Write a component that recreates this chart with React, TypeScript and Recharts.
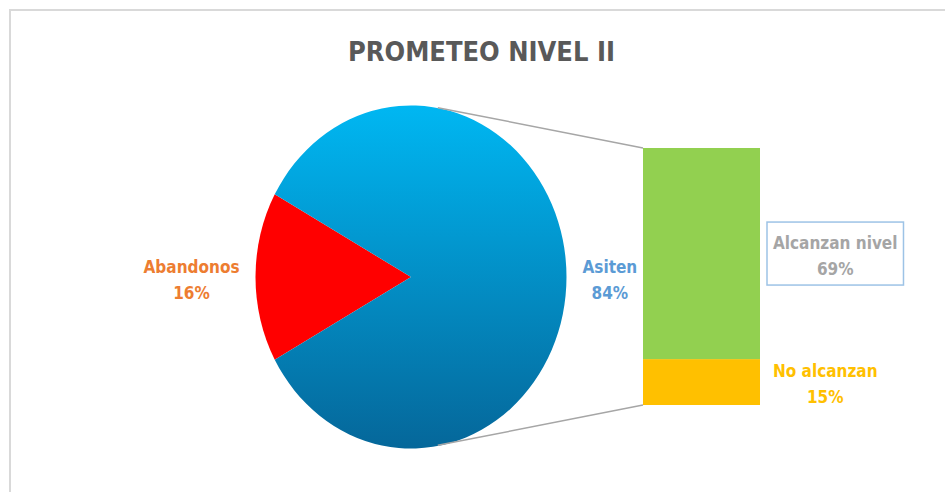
import React from 'react'
import { PieChart, Pie, Cell, BarChart, Bar, XAxis, YAxis, LabelList } from 'recharts'

// pie: first level
const PIE_NAMES = ['Abandonos', 'Asiten']
const PIE_VALUES = [16, 84]
// bar: breakdown of "Asiten"
const BAR_CATEGORY = ['Asiten']
const BAR_NAMES = ['No alcanzan', 'Alcanzan nivel']
const BAR_VALUES = [15, 69]

const TITLE = 'PROMETEO NIVEL II'

const FONT = "'DejaVu Sans Condensed', 'DejaVu Sans', sans-serif"
const LABEL_SIZE = 17
const PIE_LABEL_COLORS = ['#ED7D31', '#5B9BD5']
const BAR_COLORS = ['#FFC000', '#92D050']
const BAR_LABEL_COLORS = ['#FFC000', '#A5A5A5']

// pie geometry (page px); Excel draws it slightly taller than wide
const PIE_CX = 410.5
const PIE_CY = 276.5
const PIE_R = 155.5
const PIE_SY = 1.103
const PIE_BOX_W = 640
const PIE_BOX_H = 400

// bar chart placement
const BAR_LEFT = 430
const BAR_TOP = 100
const BAR_W = 515
const BAR_H = 385
const BAR_MARGIN = { top: 48, right: 185, bottom: 80, left: 213 }

const pieData = PIE_NAMES.map((name, i) => ({ name, value: PIE_VALUES[i] }))
const pieTotal = PIE_VALUES.reduce((a, b) => a + b, 0)
const startAngle = 180 - (PIE_VALUES[0] / pieTotal) * 180

const barRow: Record<string, string | number> = { name: BAR_CATEGORY[0] }
BAR_NAMES.forEach((n, i) => { barRow[n] = BAR_VALUES[i] })
const barData = [barRow]
const barTotal = BAR_VALUES.reduce((a, b) => a + b, 0)

let canvas: HTMLCanvasElement | null = null
function textWidth(s: string, size: number) {
  if (!canvas) canvas = document.createElement('canvas')
  const ctx = canvas.getContext('2d')
  if (!ctx) return s.length * size * 0.5
  ctx.font = `bold ${size}px ${FONT}`
  return ctx.measureText(s).width
}

function PieLabel(props: any) {
  const { cx, cy, midAngle, outerRadius, index, name, value } = props
  const right = Math.cos((-midAngle * Math.PI) / 180) >= 0
  const pct = `${Math.round((value / pieTotal) * 100)}%`
  const w = Math.max(textWidth(name, LABEL_SIZE), textWidth(pct, LABEL_SIZE))
  const gap = 16
  const x = right ? cx + outerRadius + gap + w / 2 : cx - outerRadius - gap - w / 2
  return (
    <g transform={`translate(${x},${cy}) scale(1,${1 / PIE_SY})`}>
      <text textAnchor="middle" fontFamily={FONT} fontWeight="bold" fontSize={LABEL_SIZE} fill={PIE_LABEL_COLORS[index]}>
        <tspan x={0} y={-4.5}>{name}</tspan>
        <tspan x={0} y={21.5}>{pct}</tspan>
      </text>
    </g>
  )
}

// tangent point on the pie ellipse seen from (px, py), in bar chart coords
function tangent(px: number, py: number, upper: boolean) {
  const cx = PIE_CX - BAR_LEFT
  const cy = PIE_CY - BAR_TOP
  const ry = PIE_R * PIE_SY
  const u = (px - cx) / PIE_R
  const v = (py - cy) / ry
  const d = Math.hypot(u, v)
  const phi = Math.atan2(v, u)
  const a = Math.acos(1 / d)
  const t = upper ? phi - a : phi + a
  return { x: cx + PIE_R * Math.cos(t), y: cy + ry * Math.sin(t) }
}

function BarWithConnector(props: any, upper: boolean) {
  const { x, y, width, height, fill } = props
  const cy = upper ? y : y + height
  const t = tangent(x, cy, upper)
  return (
    <g>
      <line x1={t.x} y1={t.y} x2={x} y2={cy} stroke="#A6A6A6" strokeWidth={1.5} />
      <rect x={x} y={y} width={width} height={height} fill={fill} />
    </g>
  )
}

function BarLabel(props: any, idx: number) {
  const { x, y, width, height, value } = props
  const name = BAR_NAMES[idx]
  const pct = `${Math.round((value / pieTotal) * 100)}%`
  const w = Math.max(textWidth(name, LABEL_SIZE), textWidth(pct, LABEL_SIZE))
  const left = x + width + 13
  const mid = y + height / 2
  const boxed = idx === 1
  return (
    <g>
      {boxed && (
        <rect x={x + width + 7} y={mid - 31.5} width={w + 12} height={63} fill="#fff" stroke="#9DC3E6" strokeWidth={1.5} />
      )}
      <text textAnchor="middle" fontFamily={FONT} fontWeight="bold" fontSize={LABEL_SIZE} fill={BAR_LABEL_COLORS[idx]}>
        <tspan x={left + w / 2} y={mid - 5}>{name}</tspan>
        <tspan x={left + w / 2} y={mid + 21}>{pct}</tspan>
      </text>
    </g>
  )
}

export default function App() {
  return (
    <div style={{ position: 'absolute', left: 0, top: 0, width: 945, height: 492, background: '#fff', overflow: 'hidden' }}>
      <div style={{ position: 'absolute', left: 9, top: 9, width: 960, height: 500, borderLeft: '2px solid #D9D9D9', borderTop: '2px solid #D9D9D9' }} />
      <svg width={945} height={100} style={{ position: 'absolute', left: 0, top: 0 }}>
        <text x={481.5} y={61} textAnchor="middle" fontFamily={FONT} fontWeight="bold" fontSize={27} fill="#595959">
          {TITLE}
        </text>
      </svg>

      <div
        style={{
          position: 'absolute',
          left: PIE_CX - PIE_BOX_W / 2,
          top: PIE_CY - PIE_BOX_H / 2,
          width: PIE_BOX_W,
          height: PIE_BOX_H,
          transform: `scaleY(${PIE_SY})`,
          transformOrigin: '50% 50%',
        }}
      >
        <PieChart width={PIE_BOX_W} height={PIE_BOX_H} margin={{ top: 0, right: 0, bottom: 0, left: 0 }}>
          <defs>
            <linearGradient id="asitenGrad" x1="0" y1="0" x2="0" y2="1">
              <stop offset="0%" stopColor="#00B7F2" />
              <stop offset="100%" stopColor="#05679A" />
            </linearGradient>
          </defs>
          <Pie
            data={pieData}
            dataKey="value"
            nameKey="name"
            cx={PIE_BOX_W / 2}
            cy={PIE_BOX_H / 2}
            outerRadius={PIE_R}
            startAngle={startAngle}
            endAngle={startAngle + 360}
            stroke="none"
            labelLine={false}
            label={PieLabel}
            isAnimationActive={false}
          >
            <Cell fill="#FF0000" />
            <Cell fill="url(#asitenGrad)" />
          </Pie>
        </PieChart>
      </div>

      <div style={{ position: 'absolute', left: BAR_LEFT, top: BAR_TOP }}>
        <BarChart width={BAR_W} height={BAR_H} data={barData} margin={BAR_MARGIN} barCategoryGap={0} barGap={0}>
          <XAxis dataKey="name" hide />
          <YAxis hide domain={[0, barTotal]} />
          <Bar dataKey={BAR_NAMES[0]} stackId="s" fill={BAR_COLORS[0]} isAnimationActive={false} shape={(p: any) => BarWithConnector(p, false)}>
            <LabelList dataKey={BAR_NAMES[0]} content={(p: any) => BarLabel(p, 0)} />
          </Bar>
          <Bar dataKey={BAR_NAMES[1]} stackId="s" fill={BAR_COLORS[1]} isAnimationActive={false} shape={(p: any) => BarWithConnector(p, true)}>
            <LabelList dataKey={BAR_NAMES[1]} content={(p: any) => BarLabel(p, 1)} />
          </Bar>
        </BarChart>
      </div>
    </div>
  )
}
